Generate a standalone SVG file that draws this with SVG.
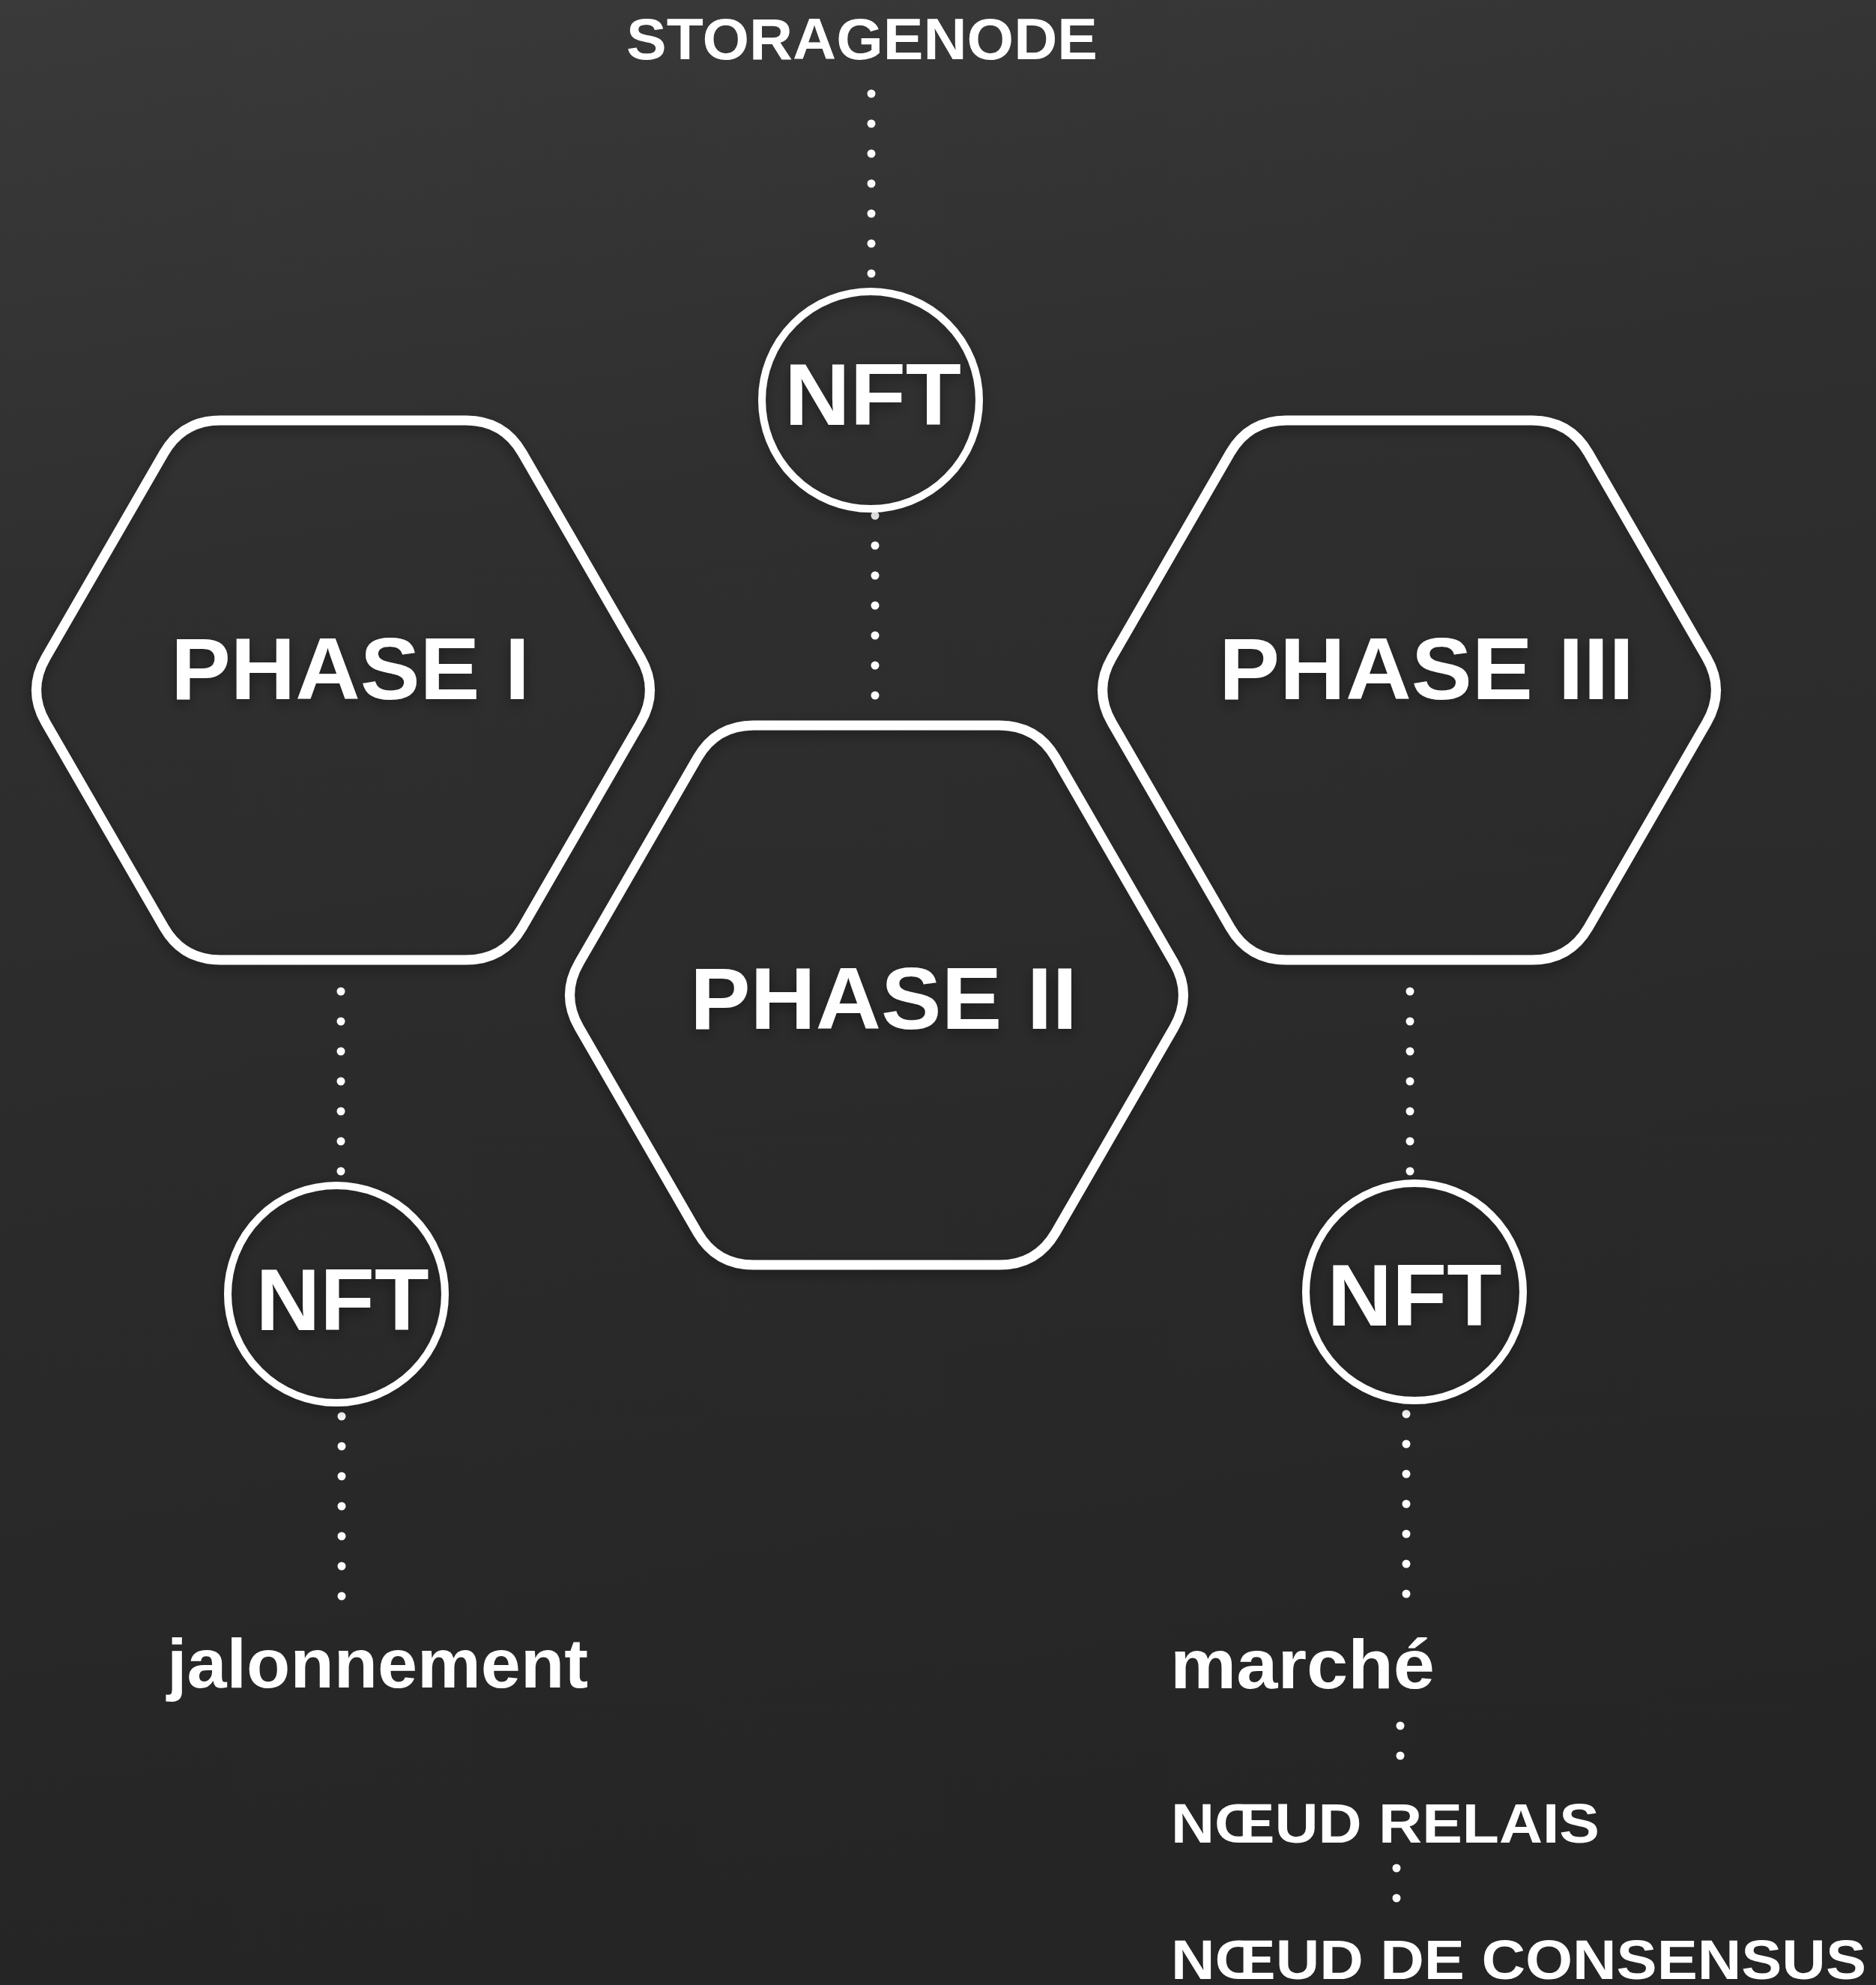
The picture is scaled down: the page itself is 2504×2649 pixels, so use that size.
<svg xmlns="http://www.w3.org/2000/svg" xmlns:xlink="http://www.w3.org/1999/xlink" width="2504" height="2649" viewBox="0 0 2504 2649">
  <defs>
    <linearGradient id="bg" x1="0" y1="0" x2="0.15" y2="1">
      <stop offset="0" stop-color="#3a3a3a"/>
      <stop offset="0.3" stop-color="#2f2f2f"/>
      <stop offset="0.65" stop-color="#2a2a2a"/>
      <stop offset="1" stop-color="#252525"/>
    </linearGradient>
    <filter id="shadow" x="-10%" y="-10%" width="120%" height="120%">
      <feDropShadow dx="0" dy="6" stdDeviation="9" flood-color="#000" flood-opacity="0.35"/>
    </filter>
    <path id="hex" class="shape" d="M -397,-43.3 L -239,-316.7 Q -214,-360 -164,-360 L 164,-360 Q 214,-360 239,-316.7 L 397,-43.3 Q 422,0 397,43.3 L 239,316.7 Q 214,360 164,360 L -164,360 Q -214,360 -239,316.7 L -397,43.3 Q -422,0 -397,-43.3 Z"/>
  </defs>
  <style>
    .shape { fill: none; stroke: #ffffff; stroke-width: 13; stroke-linejoin: round; }
    .ring { fill: none; stroke: #ffffff; stroke-width: 10; }
    .dots { stroke: #ffffff; stroke-width: 11; stroke-linecap: round; stroke-dasharray: 0 40; fill: none; }
    .t { fill: #ffffff; font-family: "Liberation Sans", Arial, Helvetica, sans-serif; font-weight: bold; }
    .phase { font-size: 117px; }
    .nft { font-size: 117px; }
    .label { font-size: 92px; }
    .caps { font-size: 75px; }
  </style>

  <rect x="0" y="0" width="2504" height="2649" fill="url(#bg)"/>

  <g id="connectors">
    <line class="dots" x1="1163" y1="125" x2="1163" y2="367"/>
    <line class="dots" x1="1168" y1="688" x2="1168" y2="930"/>
    <line class="dots" x1="455" y1="1323" x2="455" y2="1565"/>
    <line class="dots" x1="456" y1="1890" x2="456" y2="2132"/>
    <line class="dots" x1="1882" y1="1323" x2="1882" y2="1565"/>
    <line class="dots" x1="1877" y1="1887" x2="1877" y2="2129"/>
    <line class="dots" x1="1869" y1="2303" x2="1869" y2="2345"/>
    <line class="dots" x1="1864" y1="2493" x2="1864" y2="2535"/>
  </g>

  <g id="storagenode">
    <text class="t" x="836" y="79" font-size="77" textLength="629" lengthAdjust="spacingAndGlyphs">STORAGENODE</text>
  </g>

  <g id="nft-top" filter="url(#shadow)">
    <circle class="ring" cx="1162" cy="534" r="145"/>
    <text class="t nft" x="1165" y="567" text-anchor="middle" textLength="236" lengthAdjust="spacingAndGlyphs">NFT</text>
  </g>

  <g id="phase-1" filter="url(#shadow)">
    <use xlink:href="#hex" href="#hex" transform="translate(458,921)"/>
    <text class="t phase" x="228" y="933" textLength="479" lengthAdjust="spacingAndGlyphs">PHASE I</text>
  </g>

  <g id="phase-2" filter="url(#shadow)">
    <use xlink:href="#hex" href="#hex" transform="translate(1170,1328)"/>
    <text class="t phase" x="921" y="1373" textLength="517" lengthAdjust="spacingAndGlyphs">PHASE II</text>
  </g>

  <g id="phase-3" filter="url(#shadow)">
    <use xlink:href="#hex" href="#hex" transform="translate(1881,921)"/>
    <text class="t phase" x="1627" y="933" textLength="554" lengthAdjust="spacingAndGlyphs">PHASE III</text>
  </g>

  <g id="nft-left" filter="url(#shadow)">
    <circle class="ring" cx="449" cy="1727" r="145"/>
    <text class="t nft" x="457" y="1775" text-anchor="middle" textLength="231" lengthAdjust="spacingAndGlyphs">NFT</text>
  </g>

  <g id="nft-right" filter="url(#shadow)">
    <circle class="ring" cx="1888" cy="1724" r="145"/>
    <text class="t nft" x="1888" y="1769" text-anchor="middle" textLength="233" lengthAdjust="spacingAndGlyphs">NFT</text>
  </g>

  <g id="jalonnement">
    <text class="t label" x="223" y="2252" textLength="562" lengthAdjust="spacingAndGlyphs">jalonnement</text>
  </g>

  <g id="marche">
    <text class="t label" x="1562" y="2253" textLength="353" lengthAdjust="spacingAndGlyphs">marché</text>
  </g>

  <g id="noeud-relais">
    <text class="t caps" x="1563" y="2459" textLength="572" lengthAdjust="spacingAndGlyphs">NŒUD RELAIS</text>
  </g>

  <g id="noeud-consensus">
    <text class="t caps" x="1563" y="2641" textLength="928" lengthAdjust="spacingAndGlyphs">NŒUD DE CONSENSUS</text>
  </g>
</svg>
